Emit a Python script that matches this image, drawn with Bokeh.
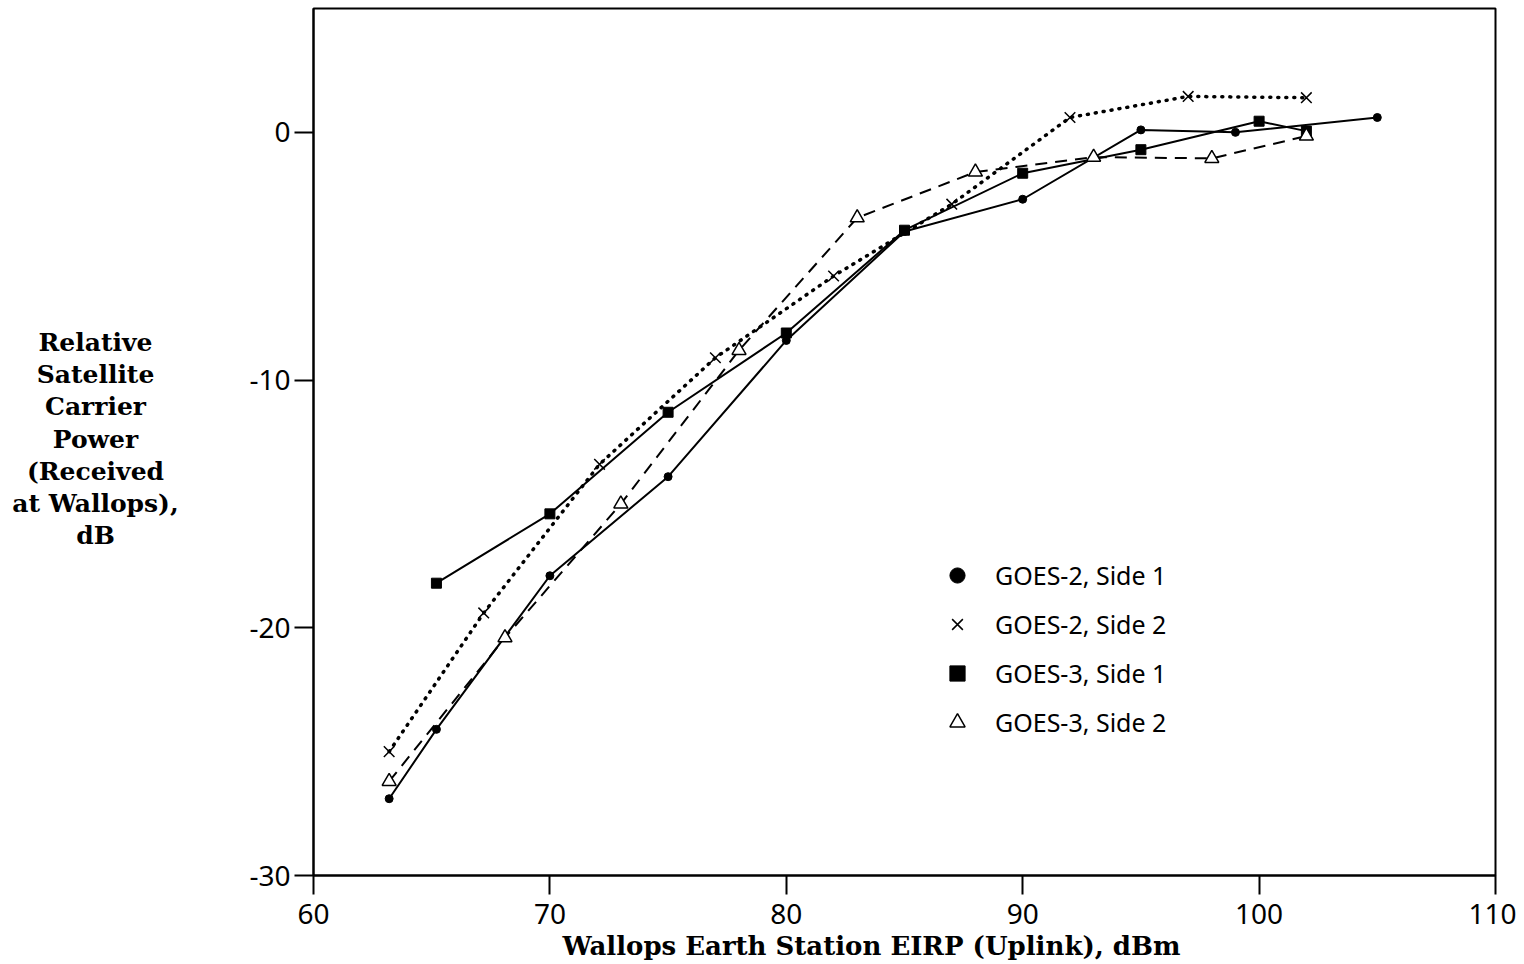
from bokeh.plotting import figure
from bokeh.layouts import row
from bokeh.models import FixedTicker, Range1d, Legend, LegendItem, Title, PrintfTickFormatter
from bokeh.core.properties import value
from bokeh.embed import file_html
from bokeh.resources import INLINE

# ---- data ----
g2s1_x = [63.2, 65.2, 70, 75, 80, 85, 90, 95, 99, 105]
g2s1_y = [-26.9, -24.1, -17.9, -13.9, -8.4, -4.0, -2.7, 0.1, 0.0, 0.6]

g2s2_x = [63.2, 67.2, 72.1, 77, 82, 87, 92, 97, 102]
g2s2_y = [-25.0, -19.4, -13.4, -9.1, -5.8, -2.9, 0.6, 1.45, 1.4]

g3s1_x = [65.2, 70, 75, 80, 85, 90, 95, 100, 102]
g3s1_y = [-18.2, -15.4, -11.3, -8.1, -3.95, -1.65, -0.7, 0.45, 0.05]

g3s2_x = [63.2, 68.1, 73, 78, 83, 88, 93, 98, 102]
g3s2_y = [-26.2, -20.4, -15.0, -8.8, -3.45, -1.6, -1.0, -1.05, -0.15]

x_ticks = [60, 70, 80, 90, 100, 110]
y_ticks = [-30, -20, -10, 0]

legend_labels = ["GOES-2, Side 1", "GOES-2, Side 2", "GOES-3, Side 1", "GOES-3, Side 2"]
y_label_lines = ["Relative", "Satellite", "Carrier", "Power", "(Received", "at Wallops),", "dB"]
x_label = "Wallops Earth Station EIRP (Uplink), dBm"

SANS = "Noto Sans"
SERIF = "DejaVu Serif"

H = 964
LEFT_W = 200
FRAME_TOP = 8
FRAME_BOTTOM = 875

# ---- left panel holding the horizontal, centred y-axis title ----
# (its frame is aligned with the main chart's frame by the row layout,
#  so its y range is expressed in pixel rows of that frame)
side = figure(width=LEFT_W, height=H, output_backend="svg", toolbar_location=None,
              x_range=Range1d(0, LEFT_W), y_range=Range1d(FRAME_BOTTOM, FRAME_TOP),
              x_axis_type=None, y_axis_type=None,
              min_border_left=0, min_border_right=0, min_border_top=FRAME_TOP,
              min_border_bottom=H - FRAME_BOTTOM)
side.grid.visible = False
side.outline_line_color = None
side.background_fill_color = "white"
side.border_fill_color = "white"
line_pitch = 32.2
first_line = 342
side.text(x=[95] * len(y_label_lines),
          y=[first_line + i * line_pitch for i in range(len(y_label_lines))],
          text=y_label_lines, text_align="center", text_baseline="middle",
          text_font=value(SERIF), text_font_style="bold", text_font_size="25px",
          text_color="black")

# ---- main chart ----
p = figure(width=1516 - LEFT_W, height=H, output_backend="svg", toolbar_location=None,
           x_range=Range1d(60, 110), y_range=Range1d(-30, 5),
           min_border_left=313 - LEFT_W, min_border_right=21, min_border_top=FRAME_TOP,
           min_border_bottom=H - FRAME_BOTTOM)
p.xgrid.visible = False
p.ygrid.visible = False
p.outline_line_color = "black"
p.outline_line_width = 2
p.background_fill_color = "white"
p.border_fill_color = "white"

for ax in (p.xaxis[0], p.yaxis[0]):
    ax.axis_line_width = 2
    ax.axis_line_color = "black"
    ax.major_tick_line_width = 2
    ax.major_tick_in = 0
    ax.major_tick_out = 19
    ax.minor_tick_line_color = None
    ax.major_label_text_font = SANS
    ax.major_label_text_font_size = "28px"
    ax.major_label_text_color = "black"
    ax.formatter = PrintfTickFormatter(format="%d")

p.xaxis.ticker = FixedTicker(ticks=x_ticks)
p.yaxis.ticker = FixedTicker(ticks=y_ticks)
p.xaxis.major_label_standoff = 9
p.yaxis.major_label_standoff = 4

# ---- series ----
p.line(g2s1_x, g2s1_y, line_color="black", line_width=2)
r1 = p.scatter(g2s1_x, g2s1_y, marker="circle", size=8, fill_color="black", line_color="black")

p.line(g2s2_x, g2s2_y, line_color="black", line_width=3.5, line_dash="1 7", line_cap="round")
r2 = p.scatter(g2s2_x, g2s2_y, marker="x", size=15, line_color="black", line_width=1.5)

p.line(g3s1_x, g3s1_y, line_color="black", line_width=2)
r3 = p.scatter(g3s1_x, g3s1_y, marker="square", size=10, fill_color="black", line_color="black")

p.line(g3s2_x, g3s2_y, line_color="black", line_width=2, line_dash="12 8")
r4 = p.scatter(g3s2_x, g3s2_y, marker="triangle", size=14, fill_color="white", line_color="black", line_width=1.5)

legend = Legend(items=[LegendItem(label=legend_labels[i], renderers=[r]) for i, r in enumerate([r1, r2, r3, r4])],
                location=(625, 134), padding=0, margin=0, spacing=11,
                glyph_width=38, glyph_height=38, label_height=38, label_standoff=19,
                label_text_font=SANS, label_text_font_size="25px", label_text_color="black",
                label_text_baseline="middle",
                border_line_alpha=0, background_fill_alpha=0)
p.add_layout(legend, "center")

# x-axis title
p.add_layout(Title(text=x_label, align="left", offset=562 - 313, standoff=5,
                   text_font=SERIF, text_font_style="bold", text_font_size="26px",
                   text_color="black"), "below")

layout = row(side, p, spacing=0)
open("out.html", "w").write(file_html(layout, INLINE))
